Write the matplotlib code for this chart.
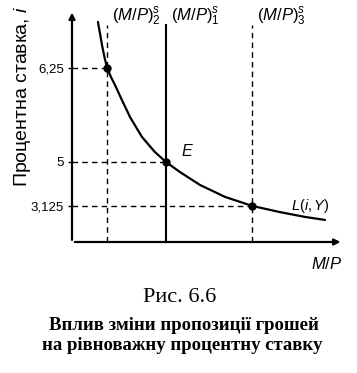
import matplotlib
matplotlib.use("Agg")
import matplotlib.pyplot as plt

#%% --- Data (schematic units) ---

# money demand curve L(i, Y)
curve_x = [0.96, 1.04, 1.11, 1.20, 1.30, 1.44, 1.59, 1.85, 2.15, 2.59, 3.07, 3.48, 4.00, 4.74, 5.67, 6.67, 7.70, 8.63, 9.37]
curve_y = [9.57, 9.05, 8.57, 8.05, 7.57, 7.18, 6.83, 6.17, 5.43, 4.57, 3.91, 3.48, 3.04, 2.48, 1.96, 1.57, 1.30, 1.09, 0.96]

# money supply positions (M/P)_2, (M/P)_1, (M/P)_3
supply_x = [1.30, 3.48, 6.67]
supply_labels = [r"$(M/P)_2^s$", r"$(M/P)_1^s$", r"$(M/P)_3^s$"]
supply_styles = ["--", "-", "--"]

# interest rate levels
rate_pos = [7.57, 3.48, 1.57]
rate_labels = ["6,25", "5", "3,125"]

#%% --- Style ---

plt.rcParams["font.family"] = ["Liberation Sans", "DejaVu Sans"]
plt.rcParams["mathtext.fontset"] = "custom"
plt.rcParams["mathtext.rm"] = "Liberation Sans"
plt.rcParams["mathtext.it"] = "Liberation Sans:italic"

fig = plt.figure(figsize=(3.57, 3.73), dpi=100)
fig.set_facecolor("white")
ax = fig.add_axes([72/357, 131/373, 270/357, 230/373])
ax.set_xlim(0, 10)
ax.set_ylim(0, 10)
for s in ax.spines.values():
    s.set_visible(False)

# --- axes with arrows ---
ax.annotate("", xy=(10.05, 0), xytext=(0, 0),
            arrowprops=dict(arrowstyle="-|>", lw=1.6, color="black", mutation_scale=9),
            annotation_clip=False)
ax.annotate("", xy=(0, 10.1), xytext=(0, -0.03),
            arrowprops=dict(arrowstyle="-|>", lw=1.6, color="black", mutation_scale=9),
            annotation_clip=False)

# --- supply lines ---
for xs, lab, ls in zip(supply_x, supply_labels, supply_styles):
    ax.plot([xs, xs], [0, 9.45], color="black", ls=ls,
            lw=1.5 if ls == "-" else 1.0, dashes=(4, 3) if ls == "--" else (None, None),
            clip_on=False)
    ax.text(xs + 0.2, 9.8, lab, fontsize=12, va="center", ha="left")

# --- horizontal guides ---
for xs, yp in zip(supply_x, rate_pos):
    ax.plot([0, xs], [yp, yp], color="black", ls="--", lw=1.0, dashes=(4, 3))

# --- demand curve and points ---
ax.plot(curve_x, curve_y, color="black", lw=1.6, solid_capstyle="round")
ax.plot(supply_x, rate_pos, "o", color="black", markersize=5, zorder=5)

ax.text(4.05, 3.95, r"$E$", fontsize=11.5, ha="left", va="center")
ax.text(8.1, 1.55, r"$L(i, Y)$", fontsize=10.5, ha="left", va="center")
ax.text(10.0, -0.95, r"$M/P$", fontsize=12, ha="right", va="center")

# --- ticks ---
ax.set_xticks([])
ax.set_yticks(rate_pos)
ax.set_yticklabels(rate_labels, fontsize=9.5)
ax.tick_params(axis="y", direction="out", length=3, width=1, pad=3)

# --- text outside ---
fig.text(23/357, 1 - 96/373, r"Процентна ставка, $i$", rotation=90,
         fontsize=14, ha="center", va="center")
fig.text(180/357, 1 - 297/373, "Рис. 6.6", family="Liberation Serif",
         fontsize=16, ha="center", va="center")
fig.text(184/357, 1 - 325/373, "Вплив зміни пропозиції грошей",
         family="Liberation Serif", weight="bold", fontsize=13.5, ha="center", va="center")
fig.text(182/357, 1 - 346/373, "на рівноважну процентну ставку",
         family="Liberation Serif", weight="bold", fontsize=13.5, ha="center", va="center")

fig.savefig("out.png", dpi=100, facecolor="white")
